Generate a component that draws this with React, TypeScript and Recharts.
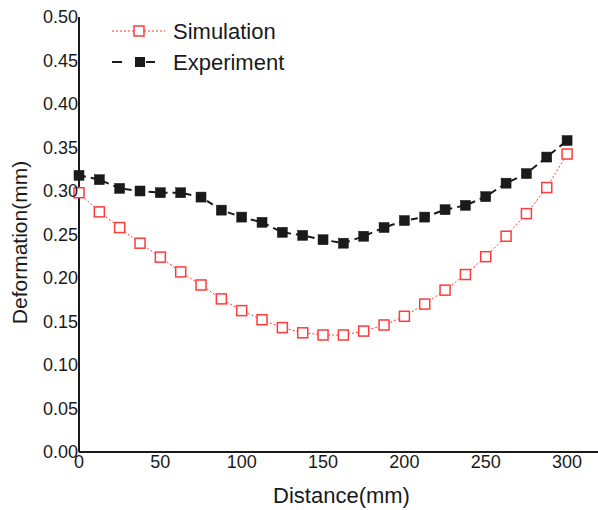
import React from 'react';
import { LineChart, Line, XAxis, YAxis } from 'recharts';

const distances = [0, 12.5, 25, 37.5, 50, 62.5, 75, 87.5, 100, 112.5, 125, 137.5, 150, 162.5, 175, 187.5, 200, 212.5, 225, 237.5, 250, 262.5, 275, 287.5, 300];
const simulation = [0.298, 0.276, 0.258, 0.240, 0.224, 0.207, 0.192, 0.176, 0.1625, 0.152, 0.143, 0.137, 0.1345, 0.1345, 0.139, 0.146, 0.156, 0.170, 0.186, 0.204, 0.2245, 0.248, 0.274, 0.304, 0.3425];
const experiment = [0.318, 0.313, 0.303, 0.300, 0.298, 0.298, 0.293, 0.278, 0.270, 0.264, 0.2525, 0.249, 0.244, 0.240, 0.248, 0.258, 0.266, 0.270, 0.2785, 0.2835, 0.2935, 0.309, 0.320, 0.339, 0.358];
const xTicks = [0, 50, 100, 150, 200, 250, 300];
const yTicks = [0, 0.05, 0.1, 0.15, 0.2, 0.25, 0.3, 0.35, 0.4, 0.45, 0.5];

const data = distances.map((d, i) => ({ d, sim: simulation[i], exp: experiment[i] }));

const RED = '#ff3b3b';
const FONT = '"Liberation Sans", Arial, sans-serif';

const HollowSquare = (props: any) => {
  const { cx, cy, index } = props;
  if (cx == null || cy == null) return null;
  return <rect key={`s-${index}`} x={cx - 5} y={cy - 5} width={10} height={10} fill="#fff" stroke={RED} strokeWidth={1.5} />;
};

const FilledSquare = (props: any) => {
  const { cx, cy, index } = props;
  if (cx == null || cy == null) return null;
  return <rect key={`e-${index}`} x={cx - 5} y={cy - 5} width={10} height={10} fill="#1a1a1a" stroke="#1a1a1a" strokeWidth={0.5} />;
};

const LegendBox = () => (
  <svg width={220} height={70} style={{ position: 'absolute', left: 100, top: 15, display: 'block' }}>
    <line x1={12} y1={16} x2={65} y2={16} stroke={RED} strokeWidth={1} strokeDasharray="2 2" />
    <rect x={34} y={11} width={10} height={10} fill="#fff" stroke={RED} strokeWidth={1.5} />
    <text x={73} y={24} fontSize={22} fontFamily={FONT} fill="#1a1a1a">Simulation</text>
    <line x1={12} y1={47} x2={22} y2={47} stroke="#1a1a1a" strokeWidth={2} />
    <rect x={35} y={42} width={10} height={10} fill="#1a1a1a" />
    <line x1={46} y1={47} x2={55} y2={47} stroke="#1a1a1a" strokeWidth={2} />
    <text x={73} y={55} fontSize={22} fontFamily={FONT} fill="#1a1a1a">Experiment</text>
  </svg>
);

const YTitle = (props: any) => {
  const vb = props.viewBox || { x: 0, y: 0, width: 0, height: 0 };
  const cx = vb.x + 27;
  const cy = vb.y + vb.height / 2 + 8;
  return (
    <text x={cx} y={cy} transform={`rotate(-90, ${cx}, ${cy})`} textAnchor="middle" fontSize={21} fontFamily={FONT} fill="#1a1a1a">
      Deformation(mm)
    </text>
  );
};

const XTitle = (props: any) => {
  const vb = props.viewBox || { x: 0, y: 0, width: 0, height: 0 };
  const cx = vb.x + vb.width / 2 + 3;
  const cy = vb.y + 51;
  return (
    <text x={cx} y={cy} textAnchor="middle" fontSize={22} fontFamily={FONT} fill="#1a1a1a">
      Distance(mm)
    </text>
  );
};

export default function App() {
  return (
    <div style={{ position: 'absolute', left: 0, top: 0, width: 598, height: 510, background: '#fff' }}>
      <LineChart width={598} height={510} data={data} margin={{ top: 17, right: 0, bottom: 0, left: 0 }}>
        <XAxis
          dataKey="d"
          type="number"
          domain={[0, 319]}
          ticks={xTicks}
          tickSize={0}
          tickMargin={3}
          axisLine={{ stroke: '#1a1a1a', strokeWidth: 2 }}
          tick={{ fontSize: 18, fontFamily: FONT, fill: '#1a1a1a' }}
          height={58}
          label={<XTitle />}
        />
        <YAxis
          type="number"
          domain={[0, 0.5]}
          ticks={yTicks}
          width={79}
          tickSize={0}
          tickMargin={1}
          tickFormatter={(v: number) => v.toFixed(2)}
          axisLine={{ stroke: '#1a1a1a', strokeWidth: 2 }}
          tick={{ fontSize: 18, fontFamily: FONT, fill: '#1a1a1a' }}
          label={<YTitle />}
        />
        <Line
          type="linear"
          dataKey="exp"
          name="Experiment"
          stroke="#1a1a1a"
          strokeWidth={2}
          strokeDasharray="7 5"
          dot={<FilledSquare />}
          activeDot={false}
          isAnimationActive={false}
        />
        <Line
          type="linear"
          dataKey="sim"
          name="Simulation"
          stroke={RED}
          strokeWidth={1}
          strokeDasharray="2 2"
          dot={<HollowSquare />}
          activeDot={false}
          isAnimationActive={false}
        />
      </LineChart>
      <LegendBox />
    </div>
  );
}
